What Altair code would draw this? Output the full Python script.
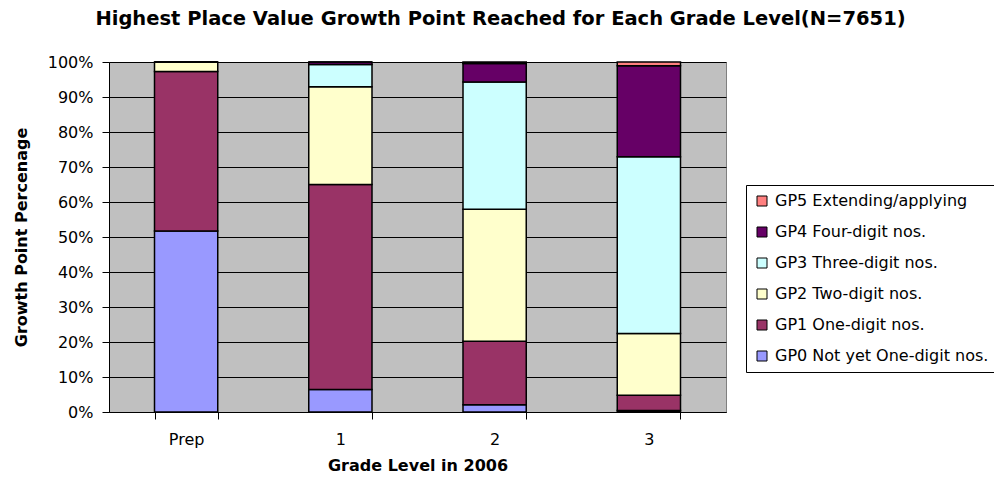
import altair as alt
import pandas as pd

grades = ["Prep", "1", "2", "3"]
series = ["GP0 Not yet One-digit nos.", "GP1 One-digit nos.", "GP2 Two-digit nos.",
          "GP3 Three-digit nos.", "GP4 Four-digit nos.", "GP5 Extending/applying"]
colors = ["#9999FF", "#993366", "#FFFFCC", "#CCFFFF", "#660066", "#FF8080"]
# percentages per grade (Prep, 1, 2, 3)
gp0 = [51.7, 6.4, 2.1, 0.4]
gp1 = [45.6, 58.6, 18.1, 4.4]
gp2 = [2.7, 27.9, 37.7, 17.6]
gp3 = [0.0, 6.4, 36.4, 50.5]
gp4 = [0.0, 0.7, 5.3, 26.0]
gp5 = [0.0, 0.0, 0.4, 1.1]
y_ticks = [0, 10, 20, 30, 40, 50, 60, 70, 80, 90, 100]

vals = [gp0, gp1, gp2, gp3, gp4, gp5]
rows = []
for si, s in enumerate(series):
    for gi, g in enumerate(grades):
        rows.append({"grade": g, "series": s, "order": si, "value": vals[si][gi]})
df = pd.DataFrame(rows)

font = "DejaVu Sans"

chart = alt.Chart(df).mark_bar(stroke="black", strokeWidth=1.5).encode(
    x=alt.X("grade:N", sort=grades,
            scale=alt.Scale(paddingInner=0.59, paddingOuter=0.295),
            axis=alt.Axis(title="Grade Level in 2006", labelAngle=0, tickBand="extent",
                          labelFontSize=16, labelFont=font, labelColor="black", labelPadding=12,
                          titleFontSize=16, titleFont=font, titleFontWeight="bold",
                          titleColor="black", titlePadding=10,
                          domainColor="black", tickColor="black", tickSize=7, grid=False)),
    y=alt.Y("value:Q", stack="zero",
            scale=alt.Scale(domain=[0, 100], nice=False),
            axis=alt.Axis(title="Growth Point Percenage", values=y_ticks,
                          labelExpr="datum.value + '%'", labelOverlap=False,
                          labelFontSize=16, labelFont=font, labelColor="black", labelPadding=9,
                          titleFontSize=16, titleFont=font, titleFontWeight="bold",
                          titleColor="black", titlePadding=18,
                          domainColor="black", tickColor="black", tickSize=7,
                          grid=True, gridColor="black", gridOpacity=1, gridWidth=1)),
    color=alt.Color("series:N",
                    scale=alt.Scale(domain=series[::-1], range=colors[::-1]),
                    legend=alt.Legend(title=None, orient="none", legendX=637, legendY=123,
                                      symbolType="square", symbolSize=100,
                                      symbolStrokeColor="black", symbolStrokeWidth=1,
                                      labelFontSize=16, labelFont=font, labelColor="black",
                                      labelLimit=300, labelOffset=5, rowPadding=15,
                                      strokeColor="black", fillColor="white",
                                      padding=8)),
    order=alt.Order("order:Q", sort="ascending"),
).properties(
    width=617, height=350,
    background="white",
    autosize=alt.AutoSizeParams(type="none"),
    padding={"left": 101, "top": 54, "right": 268, "bottom": 61},
    title=alt.TitleParams("Highest Place Value Growth Point Reached for Each Grade Level(N=7651)",
                          fontSize=19.5, font=font, fontWeight="bold", color="black",
                          anchor="middle", dx=83, offset=25),
).configure_view(fill="#C0C0C0", stroke="#808080", strokeWidth=1)

chart.save("out.html", embed_options={"renderer": "svg", "actions": False})
